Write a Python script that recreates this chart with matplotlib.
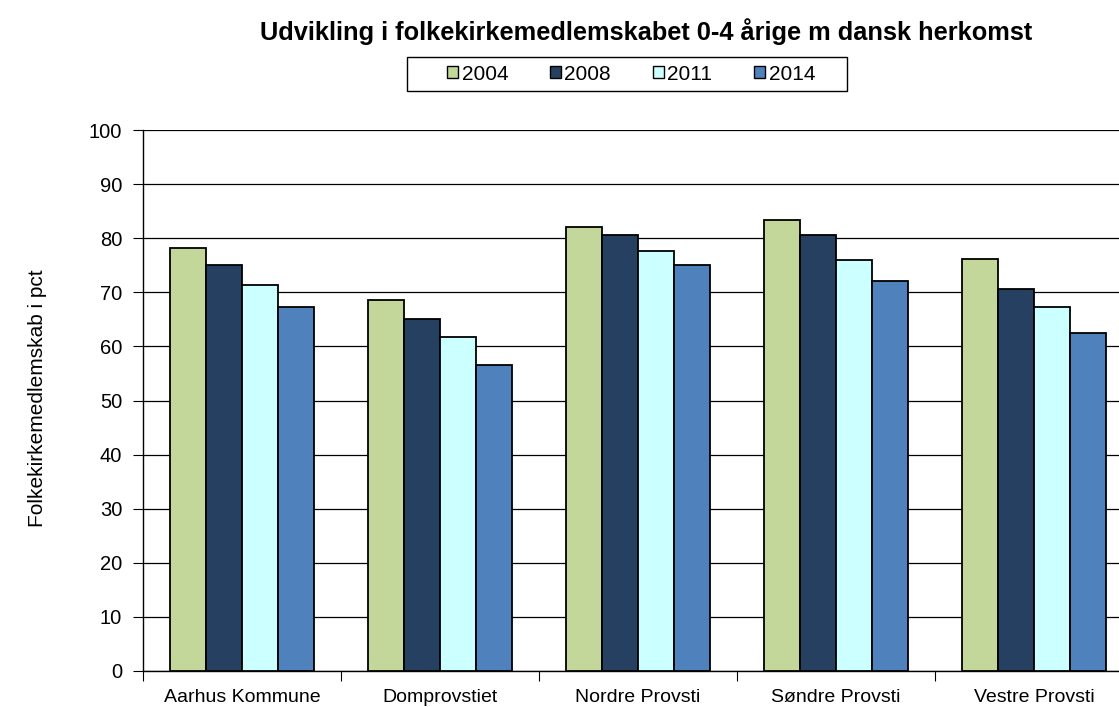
import numpy as np
import matplotlib.pyplot as plt
from matplotlib.patches import Patch, Rectangle

plt.rcParams['font.family'] = ['Liberation Sans', 'DejaVu Sans']

# Data
categories = ['Aarhus Kommune', 'Domprovstiet', 'Nordre Provsti', 'Søndre Provsti', 'Vestre Provsti']
years = ['2004', '2008', '2011', '2014']
v2004 = [78.2, 68.6, 82.0, 83.4, 76.1]
v2008 = [75.0, 65.1, 80.5, 80.5, 70.7]
v2011 = [71.4, 61.8, 77.7, 76.0, 67.2]
v2014 = [67.3, 56.5, 75.0, 72.0, 62.5]
series = [v2004, v2008, v2011, v2014]
colors = ['#C4D79B', '#254061', '#CCFFFF', '#4F81BD']

W, H = 1119, 707
fig = plt.figure(figsize=(W / 100, H / 100), dpi=100)
ax = fig.add_axes([143 / W, 36 / H, 990 / W, 541 / H])

x = np.arange(len(categories))
bw = 144 / 198 / 4
for i, (vals, c) in enumerate(zip(series, colors)):
    ax.bar(x - 2 * bw + (i + 0.5) * bw, vals, width=bw, color=c,
           edgecolor='black', linewidth=1.3, zorder=3)

ax.set_xlim(-0.5, len(categories) - 0.5)
ax.set_ylim(0, 100)
ax.set_yticks(np.arange(0, 101, 10))
ax.yaxis.grid(True, color='black', linewidth=0.9, zorder=0)
ax.set_axisbelow(True)

# category labels between boundary ticks
ax.set_xticks(np.arange(-0.5, len(categories), 1))
ax.set_xticklabels([])
ax.set_xticks(x, minor=True)
ax.set_xticklabels(categories, minor=True)
ax.tick_params(axis='x', which='minor', length=0, pad=13, labelsize=14)
ax.tick_params(axis='x', which='major', length=7, direction='out')
ax.tick_params(axis='y', length=7, direction='out', labelsize=14.5, pad=8)

for s in ['top', 'right']:
    ax.spines[s].set_visible(False)
ax.spines['left'].set_linewidth(1.0)
ax.spines['bottom'].set_linewidth(1.0)

fig.text(38 / W, 1 - 398 / H, 'Folkekirkemedlemskab i pct', rotation=90,
         ha='center', va='center', fontsize=15)
fig.text(646 / W, 1 - 32 / H, 'Udvikling i folkekirkemedlemskabet 0-4 årige m dansk herkomst',
         ha='center', va='center', fontsize=18.3, fontweight='bold')

# legend entries with a separately drawn box
handles = [Patch(facecolor=c, edgecolor='black', linewidth=1.0) for c in colors]
leg = fig.legend(handles, years, loc='center', bbox_to_anchor=(631 / W, 1 - 74 / H),
                 ncol=4, frameon=False, fontsize=15,
                 handlelength=0.55, handleheight=0.55, handletextpad=0.15,
                 columnspacing=2.0, borderpad=0.2)
fig.patches.append(Rectangle((407 / W, 1 - 91 / H), 440 / W, 34 / H,
                             transform=fig.transFigure, fill=False,
                             edgecolor='black', linewidth=1.0))

fig.savefig('out.png', dpi=100)
